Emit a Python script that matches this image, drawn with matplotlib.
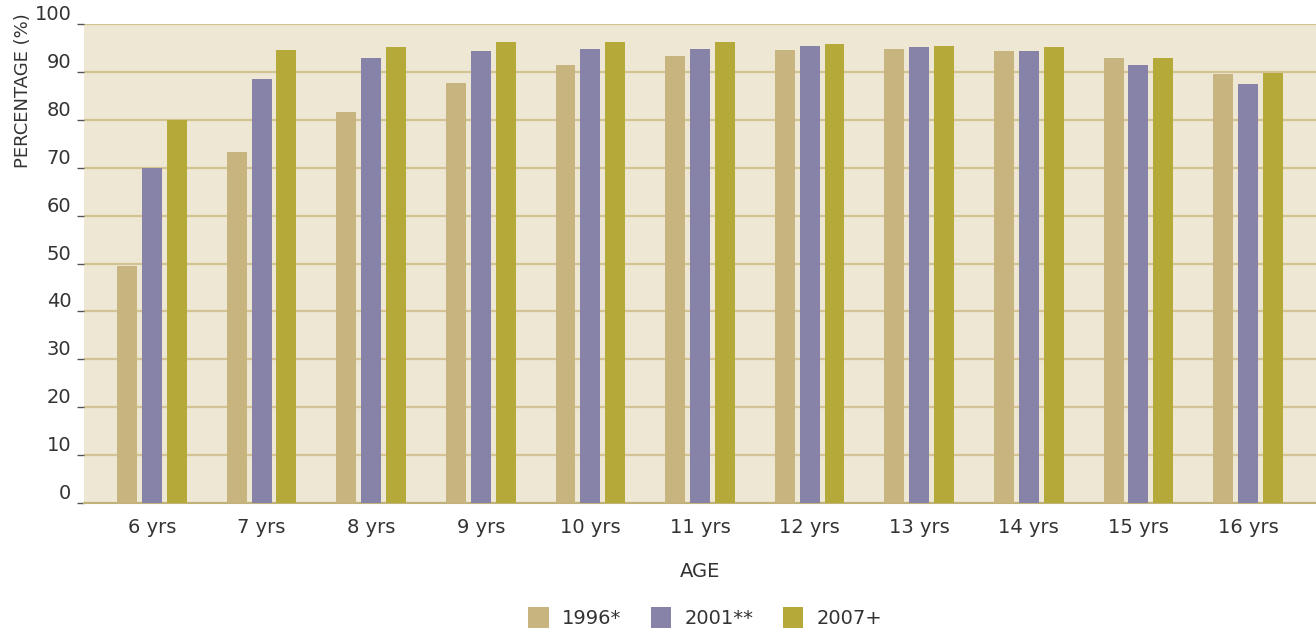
import numpy as np
import matplotlib
matplotlib.use("Agg")
import matplotlib.pyplot as plt

ages = ["6 yrs", "7 yrs", "8 yrs", "9 yrs", "10 yrs", "11 yrs",
        "12 yrs", "13 yrs", "14 yrs", "15 yrs", "16 yrs"]
y1996 = [49.5, 73.2, 81.6, 87.6, 91.4, 93.4, 94.5, 94.7, 94.3, 92.9, 89.5]
y2001 = [70.0, 88.5, 93.0, 94.3, 94.7, 94.7, 95.5, 95.1, 94.3, 91.4, 87.4]
y2007 = [80.0, 94.5, 95.3, 96.2, 96.2, 96.2, 95.8, 95.5, 95.1, 92.9, 89.7]
series_labels = ["1996*", "2001**", "2007+"]
colors = ["#c7b47f", "#8783a8", "#b5a93a"]

plt.rcParams['font.family'] = ['DejaVu Sans']
text_color = "#333333"

fig = plt.figure(figsize=(13.16, 6.28), dpi=100)
ax = fig.add_axes([84 / 1316, 125 / 628, 1 - 84 / 1316, 479 / 628])
ax.set_facecolor("#ede7d4")

x = np.arange(len(ages))
w = 0.182
pitch = 0.227
for i, (vals, c, lab) in enumerate(zip([y1996, y2001, y2007], colors, series_labels)):
    ax.bar(x + (i - 1) * pitch, vals, width=w, color=c, label=lab, zorder=3)

ax.set_xlim(-0.62, 10.62)
ax.set_ylim(0, 100)
ax.set_yticks(range(0, 101, 10))
ax.yaxis.grid(True, color="#d3c394", linewidth=1.6, zorder=1)
ax.set_axisbelow(True)

for s in ["top", "right", "left"]:
    ax.spines[s].set_visible(False)
ax.spines["bottom"].set_color("#bfb27a")
ax.spines["bottom"].set_linewidth(1.5)

ax.set_xticks(x)
ax.set_xticklabels(ages, fontsize=14, color=text_color)
ax.tick_params(axis="x", length=0, pad=11)
ax.tick_params(axis="y", length=5, width=1, color="#555555", pad=4,
               labelsize=14, labelcolor=text_color)
for t in ax.get_yticklabels():
    t.set_verticalalignment("bottom")

ax.set_xlabel("AGE", fontsize=14, color=text_color, labelpad=18)
ax.set_ylabel("PERCENTAGE (%)", fontsize=13, color=text_color)
ax.yaxis.set_label_coords(-0.042, 0.86)

fig.legend(loc="lower center", bbox_to_anchor=(0.536, -0.028), ncol=3,
           frameon=False, fontsize=14, handlelength=1.05, handleheight=1.25,
           handletextpad=0.7, columnspacing=1.5, labelcolor=text_color)

fig.savefig("out.png", dpi=100)
